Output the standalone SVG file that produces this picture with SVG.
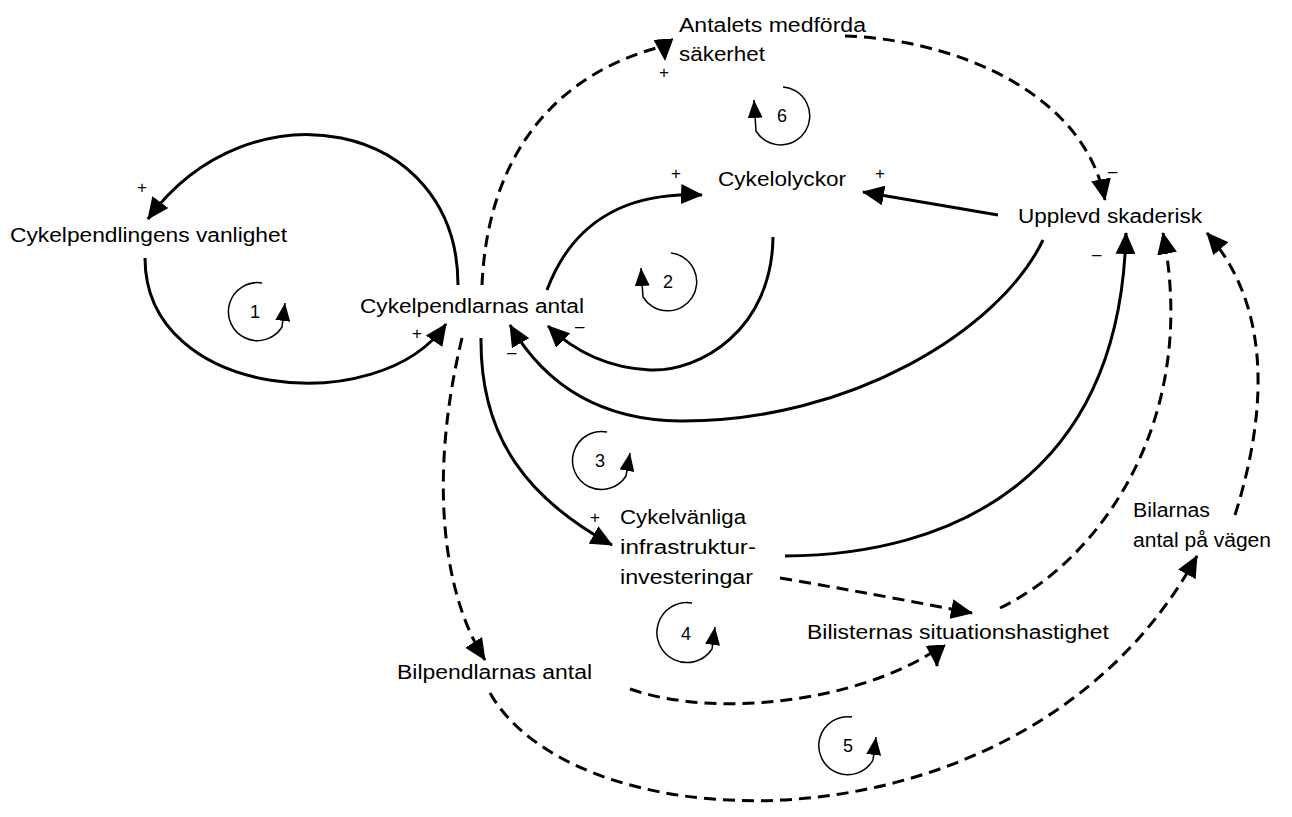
<svg xmlns="http://www.w3.org/2000/svg" width="1292" height="817" viewBox="0 0 1292 817">
<style>
  .lbl { font-family: "Liberation Sans", Arial, sans-serif; font-size: 20px; fill: #000; }
  .sgn { font-family: "Liberation Sans", Arial, sans-serif; font-size: 17px; fill: #000; }
  .num { font-family: "Liberation Sans", Arial, sans-serif; font-size: 18px; fill: #000; text-anchor: middle; }
  .solid { fill: none; stroke: #000; stroke-width: 3; marker-end: url(#ah); }
  .dash { fill: none; stroke: #000; stroke-width: 3; stroke-dasharray: 12 7; marker-end: url(#ah); }
  .loop { fill: none; stroke: #000; stroke-width: 1.5; marker-end: url(#sah); }
</style>
<defs>
  <marker id="ah" markerUnits="userSpaceOnUse" viewBox="0 0 22 20" markerWidth="22" markerHeight="20" refX="21" refY="10" orient="auto">
    <path d="M0,0 L22,10 L0,20 z" fill="#000"/>
  </marker>
  <marker id="sah" markerUnits="userSpaceOnUse" viewBox="0 0 18 15" markerWidth="18" markerHeight="15" refX="18" refY="7.5" orient="auto">
    <path d="M0,0 L18,7.5 L0,15 z" fill="#000"/>
  </marker>
</defs>
<rect width="1292" height="817" fill="#fff"/>

<g id="connectors">
  <path id="c-pendlarna-vanlighet" class="solid" d="M458,285 C458,120 250,80 148,219"/>
  <path id="c-vanlighet-pendlarna" class="solid" d="M145,258 C145,400 380,420 446,324"/>
  <path id="c-pendlarna-sakerhet" class="dash" d="M482,285 C488,150 560,72 664,46 L665,60"/>
  <path id="c-sakerhet-upplevd" class="dash" d="M845,36 C960,40 1085,95 1105,200"/>
  <path id="c-upplevd-olyckor" class="solid" d="M998,215 L863,192"/>
  <path id="c-pendlarna-olyckor" class="solid" d="M547,290 C575,215 635,192 702,195"/>
  <path id="c-olyckor-pendlarna" class="solid" d="M773,237 C772,330 700,372 650,370 C610,368 575,352 548,326"/>
  <path id="c-upplevd-pendlarna" class="solid" d="M1043,240 C1000,330 850,422 680,421 C600,420 545,385 510,325"/>
  <path id="c-pendlarna-infra" class="solid" d="M481,338 C480,440 530,500 612,545"/>
  <path id="c-infra-upplevd" class="solid" d="M785,556 C950,555 1120,480 1126,233"/>
  <path id="c-infra-hastighet" class="dash" d="M780,578 Q880,595 972,613"/>
  <path id="c-hastighet-upplevd" class="dash" d="M1000,608 C1100,560 1200,420 1163,233"/>
  <path id="c-bilarnas-upplevd" class="dash" d="M1235,515 C1265,420 1275,310 1207,233"/>
  <path id="c-pendlarna-bilpendlarna" class="dash" d="M462,338 C430,470 440,590 485,660"/>
  <path id="c-bilpendlarna-hastighet" class="dash" d="M630,689 C720,720 860,700 936,650 L937,666"/>
  <path id="c-bilpendlarna-bilarnas" class="dash" d="M490,693 C580,850 1030,860 1197,556"/>
</g>

<g id="signs">
  <text class="sgn" x="137" y="193">+</text>
  <text class="sgn" x="412" y="339">+</text>
  <text class="sgn" x="659" y="78">+</text>
  <text class="sgn" x="671" y="179">+</text>
  <text class="sgn" x="875" y="179">+</text>
  <text class="sgn" x="590" y="523">+</text>
  <text class="sgn" x="1108" y="177">–</text>
  <text class="sgn" x="1092" y="260">–</text>
  <text class="sgn" x="575" y="332">–</text>
  <text class="sgn" x="507" y="358">–</text>
</g>

<g id="loops">
  <g id="loop1"><path class="loop" d="M262,283 A29,29 0 1 0 282,327 L285,303"/><text class="num" x="255" y="318">1</text></g>
  <g id="loop2"><path class="loop" d="M671,253 A29,29 0 1 1 643,297 L641,268"/><text class="num" x="668" y="288">2</text></g>
  <g id="loop3"><path class="loop" d="M607,432 A29,29 0 1 0 626,476 L630,453"/><text class="num" x="600" y="467">3</text></g>
  <g id="loop4"><path class="loop" d="M692,603 A30,30 0 1 0 712,649 L715,627"/><text class="num" x="686" y="640">4</text></g>
  <g id="loop5"><path class="loop" d="M852,717 A29,29 0 1 0 873,760 L876,737"/><text class="num" x="848" y="752">5</text></g>
  <g id="loop6"><path class="loop" d="M783,87 A29,29 0 1 1 756,131 L754,100"/><text class="num" x="782" y="122">6</text></g>
</g>

<g id="node-vanlighet"><text class="lbl" x="10" y="242" textLength="277" lengthAdjust="spacingAndGlyphs">Cykelpendlingens vanlighet</text></g>
<g id="node-pendlarna"><text class="lbl" x="360" y="313" textLength="224" lengthAdjust="spacingAndGlyphs">Cykelpendlarnas antal</text></g>
<g id="node-sakerhet">
  <text class="lbl" x="679" y="32" textLength="187" lengthAdjust="spacingAndGlyphs">Antalets medförda</text>
  <text class="lbl" x="679" y="61" textLength="86" lengthAdjust="spacingAndGlyphs">säkerhet</text>
</g>
<g id="node-olyckor"><text class="lbl" x="718" y="186" textLength="128" lengthAdjust="spacingAndGlyphs">Cykelolyckor</text></g>
<g id="node-upplevd"><text class="lbl" x="1018" y="223" textLength="184" lengthAdjust="spacingAndGlyphs">Upplevd skaderisk</text></g>
<g id="node-infra">
  <text class="lbl" x="620" y="524" textLength="126" lengthAdjust="spacingAndGlyphs">Cykelvänliga</text>
  <text class="lbl" x="620" y="554" textLength="136" lengthAdjust="spacingAndGlyphs">infrastruktur-</text>
  <text class="lbl" x="620" y="584" textLength="133" lengthAdjust="spacingAndGlyphs">investeringar</text>
</g>
<g id="node-hastighet"><text class="lbl" x="807" y="639" textLength="302" lengthAdjust="spacingAndGlyphs">Bilisternas situationshastighet</text></g>
<g id="node-bilpendlarna"><text class="lbl" x="397" y="679" textLength="195" lengthAdjust="spacingAndGlyphs">Bilpendlarnas antal</text></g>
<g id="node-bilarnas">
  <text class="lbl" x="1133" y="517" textLength="77" lengthAdjust="spacingAndGlyphs">Bilarnas</text>
  <text class="lbl" x="1133" y="547" textLength="138" lengthAdjust="spacingAndGlyphs">antal på vägen</text>
</g>
</svg>
